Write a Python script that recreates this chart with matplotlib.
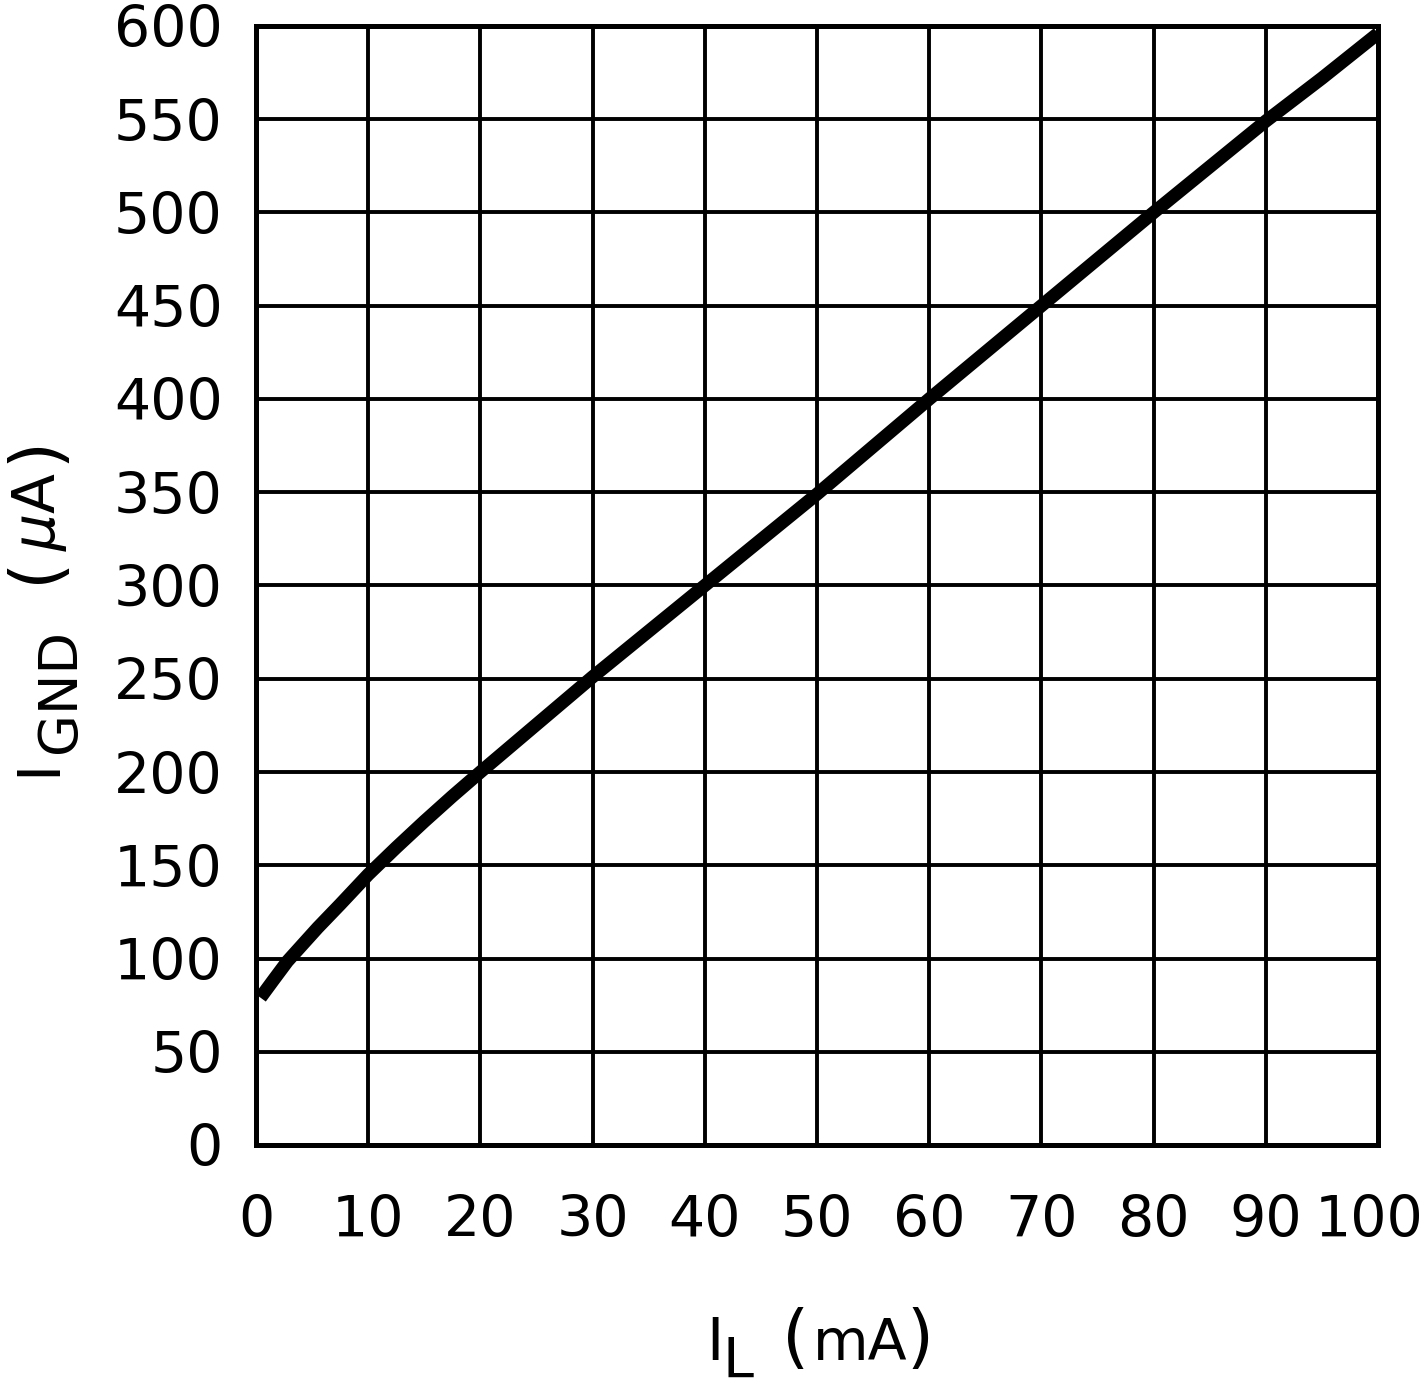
import numpy as np
import matplotlib
matplotlib.use("Agg")
import matplotlib.pyplot as plt
from matplotlib.transforms import ScaledTranslation

# load current (mA) vs ground current (uA)
load_ma = [0.4, 1.5, 2.8, 4, 5.5, 7.5, 10, 12.5, 15, 17.5, 20, 25, 30, 40, 50, 60, 70, 80, 90, 95, 100]
ignd_ua = [79, 88, 98.5, 106.5, 116.5, 129, 145, 159.5, 173.5, 187, 200, 225.5, 251, 300, 349, 400, 450, 500, 549, 572, 596]

x_ticks = list(range(0, 101, 10))
y_ticks = list(range(0, 601, 50))

W, H = 1424, 1389

plt.rcParams['font.family'] = ['DejaVu Sans']
plt.rcParams['mathtext.fontset'] = 'dejavusans'


def fpos(px, py):
    # pixel position (from top left) -> figure fraction
    return px / W, 1 - py / H


fig = plt.figure(figsize=(W / 100, H / 100), dpi=100)
ax = fig.add_axes([256 / W, 1 - 1145 / H, 1122 / W, 1119 / H])

ax.plot(load_ma, ignd_ua, color="black", linewidth=9.5,
        solid_capstyle="butt", solid_joinstyle="round", zorder=3)

ax.set_xlim(0, 100)
ax.set_ylim(0, 600)
ax.set_xticks(x_ticks)
ax.set_yticks(y_ticks)
ax.grid(True, color="black", linewidth=2.8)
ax.tick_params(length=0, labelsize=41)
ax.tick_params(axis="x", pad=35)
ax.tick_params(axis="y", pad=24)
for s in ax.spines.values():
    s.set_linewidth(3.6)

# last x label would run off the right edge
last = ax.get_xticklabels()[-1]
last.set_transform(last.get_transform() + ScaledTranslation(-0.09, 0, fig.dpi_scale_trans))

# x axis label, I_L (mA)
kw = dict(ha="left", va="baseline", color="black")
fig.text(*fpos(706, 1360), "I", fontsize=42, **kw)
fig.text(*fpos(722, 1377), "L", fontsize=40, **kw)
fig.text(*fpos(782, 1360), "(", fontsize=50, **kw)
fig.text(*fpos(813, 1360), "mA", fontsize=41, **kw)
fig.text(*fpos(906, 1360), ")", fontsize=50, **kw)

# y axis label, I_GND (uA), rotated
rkw = dict(ha="left", va="baseline", rotation=90, rotation_mode="anchor", color="black")
fig.text(*fpos(55, 776), "I", fontsize=42, **rkw)
fig.text(*fpos(75, 753), "GND", fontsize=39, **rkw)
fig.text(*fpos(55, 583), "(", fontsize=50, **rkw)
fig.text(*fpos(55, 551), r"$\mu$A", fontsize=42, **rkw)
fig.text(*fpos(55, 463), ")", fontsize=50, **rkw)

plt.savefig("out.png", dpi=100)
plt.close()
